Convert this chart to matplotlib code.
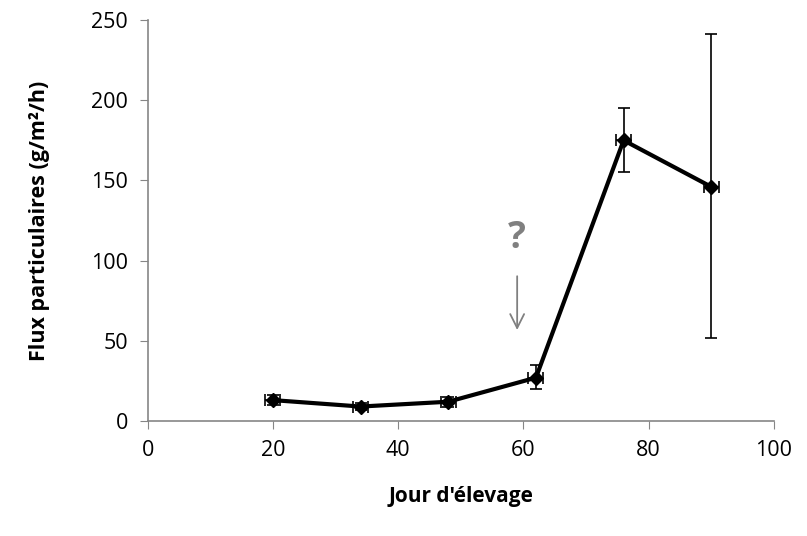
import matplotlib
matplotlib.use("Agg")
import matplotlib.pyplot as plt

plt.rcParams['font.family'] = ['Open Sans', 'DejaVu Sans']

days = [20, 34, 48, 62, 76, 90]
flux = [13, 9, 12, 27, 175, 146]
flux_err_low = [3, 2, 3, 7, 20, 94]
flux_err_high = [3, 2, 3, 8, 20, 95]
day_err = [1.2, 1.2, 1.2, 1.2, 1.2, 1.2]

fig = plt.figure(figsize=(8.07, 5.36), dpi=100)
ax = fig.add_axes([0.183, 0.2146, 0.776, 0.748])

ax.errorbar(days, flux, yerr=[flux_err_low, flux_err_high], xerr=day_err,
            color="black", linewidth=3, marker="D", markersize=7,
            ecolor="black", elinewidth=1.2, capsize=4, capthick=1.2)

# annotation: question mark with arrow
ax.text(59, 114, "?", color="#808080", fontsize=27, fontweight="bold",
        ha="center", va="center")
ax.annotate("", xy=(59, 55), xytext=(59, 92),
            arrowprops=dict(arrowstyle="->", color="#808080", lw=1.3,
                            mutation_scale=25))

ax.set_xlim(0, 100)
ax.set_ylim(0, 250)
ax.set_xticks([0, 20, 40, 60, 80, 100])
ax.set_yticks([0, 50, 100, 150, 200, 250])
ax.tick_params(axis="both", direction="out", color="#868686", length=6,
               labelsize=15.5, pad=8)
for s in ["top", "right"]:
    ax.spines[s].set_visible(False)
for s in ["left", "bottom"]:
    ax.spines[s].set_color("#868686")
    ax.spines[s].set_linewidth(1.2)

ax.set_xlabel("Jour d'élevage", fontsize=15, fontweight="bold", labelpad=18)
ax.set_ylabel("Flux particulaires (g/m²/h)", fontsize=15.5, fontweight="bold", labelpad=30)

fig.savefig("out.png", dpi=100)
